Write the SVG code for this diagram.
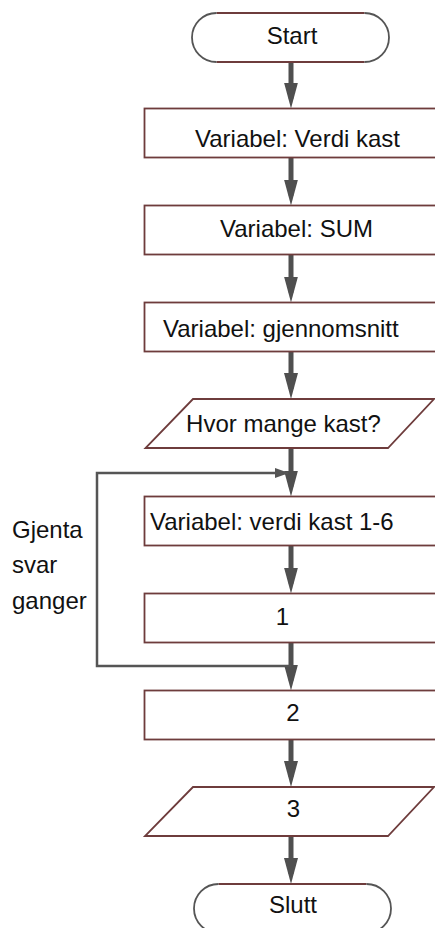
<svg xmlns="http://www.w3.org/2000/svg" width="435" height="928" viewBox="0 0 435 928">
<style>
text{font-family:"Liberation Sans",Arial,sans-serif;font-size:24px;fill:#111}
.box{fill:#fff;stroke:#6e3c3c;stroke-width:1.8}
.edge{fill:none;stroke:#6e3c3c;stroke-width:1.8}
.arc{fill:none;stroke:#555;stroke-width:1.8}
.main{stroke:#4f4f4f;stroke-width:5;fill:none}
.loop{stroke:#555;stroke-width:2.5;fill:none}
.m{text-anchor:middle}
</style>
<defs>
<marker id="ah" markerUnits="userSpaceOnUse" markerWidth="26" markerHeight="14" refX="16" refY="7" orient="auto">
<path d="M0,0 L26,7 L0,14 z" fill="#4f4f4f"/>
</marker>
<marker id="sh" markerUnits="userSpaceOnUse" markerWidth="14" markerHeight="10" refX="13" refY="5" orient="auto">
<path d="M0,0 L14,5 L0,10 z" fill="#555"/>
</marker>
</defs>
<g id="connectors">
<line class="main" x1="291" y1="62" x2="291" y2="98.5" marker-end="url(#ah)"/>
<line class="main" x1="291" y1="157.5" x2="291" y2="195.5" marker-end="url(#ah)"/>
<line class="main" x1="291" y1="254.5" x2="291" y2="292.5" marker-end="url(#ah)"/>
<line class="main" x1="291" y1="351.5" x2="291" y2="389" marker-end="url(#ah)"/>
<line class="main" x1="291" y1="448" x2="291" y2="486.5" marker-end="url(#ah)"/>
<line class="main" x1="291" y1="545.5" x2="291" y2="583.5" marker-end="url(#ah)"/>
<line class="main" x1="291" y1="642.5" x2="291" y2="680.5" marker-end="url(#ah)"/>
<line class="main" x1="291" y1="739.5" x2="291" y2="777" marker-end="url(#ah)"/>
<line class="main" x1="291" y1="836" x2="291" y2="874" marker-end="url(#ah)"/>
<path class="loop" d="M291,666 H97 V473 H288" marker-end="url(#sh)"/>
</g>
<g id="start">
<path class="edge" d="M216.5,13 H364.5 M216.5,62 H364.5"/>
<path class="arc" d="M216.5,13 A24.5,24.5 0 0 0 216.5,62 M364.5,13 A24.5,24.5 0 0 1 364.5,62"/>
<text class="m" x="292" y="43.5">Start</text>
</g>
<g id="verdi-kast">
<rect class="box" x="144.5" y="108.5" width="307" height="49"/>
<text class="m" x="297.5" y="146.5">Variabel: Verdi kast</text>
</g>
<g id="sum">
<rect class="box" x="144.5" y="205.5" width="307" height="49"/>
<text class="m" x="296.5" y="237">Variabel: SUM</text>
</g>
<g id="gjennomsnitt">
<rect class="box" x="144.5" y="302.5" width="307" height="49"/>
<text x="163" y="337">Variabel: gjennomsnitt</text>
</g>
<g id="hvor-mange">
<polygon class="box" points="193,399 434,399 388,448 145.5,448"/>
<text class="m" x="283.5" y="432">Hvor mange kast?</text>
</g>
<g id="verdi-kast-1-6">
<rect class="box" x="144.5" y="496.5" width="307" height="49"/>
<text x="150" y="530">Variabel: verdi kast 1-6</text>
</g>
<g id="step1">
<rect class="box" x="144.5" y="593.5" width="307" height="49"/>
<text class="m" x="282.5" y="625">1</text>
</g>
<g id="step2">
<rect class="box" x="144.5" y="690.5" width="307" height="49"/>
<text class="m" x="293" y="721">2</text>
</g>
<g id="step3">
<polygon class="box" points="193,787 434,787 388,836 145,836"/>
<text class="m" x="293.5" y="817">3</text>
</g>
<g id="slutt">
<path class="edge" d="M218.5,884 H366.5 M218.5,933 H366.5"/>
<path class="arc" d="M218.5,884 A24.5,24.5 0 0 0 218.5,933 M366.5,884 A24.5,24.5 0 0 1 366.5,933"/>
<text class="m" x="293" y="913">Slutt</text>
</g>
<g id="loop-label">
<text x="12" y="538">Gjenta</text>
<text x="12" y="573">svar</text>
<text x="12" y="609">ganger</text>
</g>
</svg>
